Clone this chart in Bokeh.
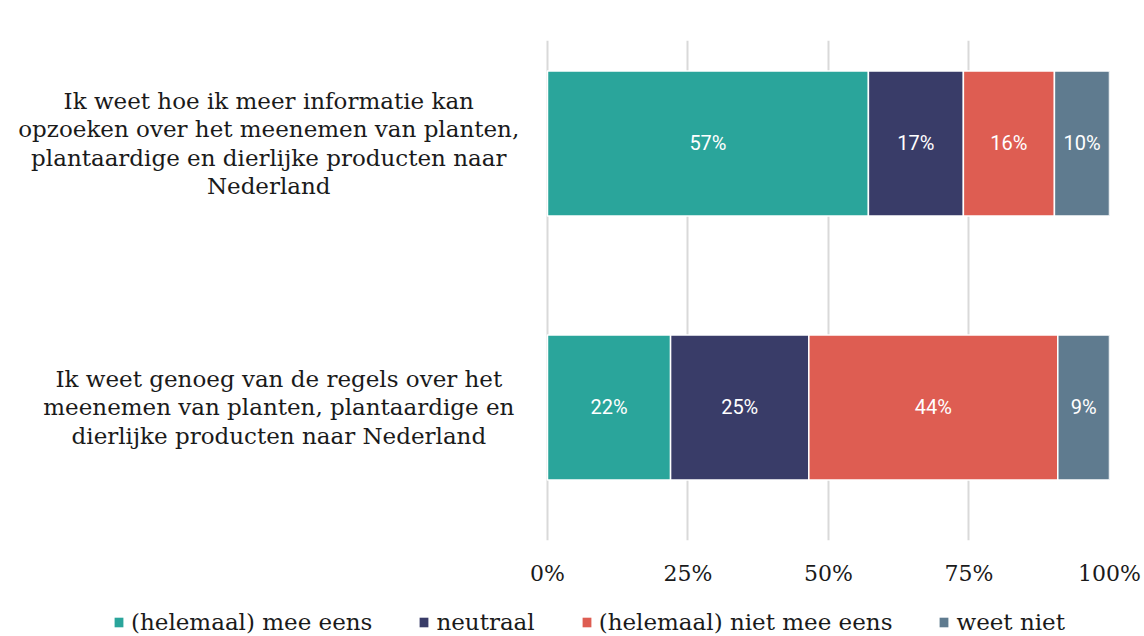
from bokeh.plotting import figure
from bokeh.layouts import column
from bokeh.models import Range1d, FixedTicker, PrintfTickFormatter, Legend, LegendItem, ColumnDataSource
from bokeh.core.properties import value
from bokeh.embed import file_html
from bokeh.resources import INLINE

categories = [
    "Ik weet hoe ik meer informatie kan\nopzoeken over het meenemen van planten,\nplantaardige en dierlijke producten naar\nNederland",
    "Ik weet genoeg van de regels over het\nmeenemen van planten, plantaardige en\ndierlijke producten naar Nederland",
]
series_names = ["(helemaal) mee eens", "neutraal", "(helemaal) niet mee eens", "weet niet"]
mee_eens = [57.1, 21.9]
neutraal = [16.9, 24.6]
niet_mee_eens = [16.2, 44.3]
weet_niet = [9.8, 9.2]
tick_values = [0, 25, 50, 75, 100]

series = [mee_eens, neutraal, niet_mee_eens, weet_niet]
colors = ["#2AA59B", "#393C68", "#DE5D52", "#5F7B8F"]

SERIF = "DejaVu Serif"
SANS = "Roboto"

p = figure(width=1144, height=590, output_backend="svg", toolbar_location=None,
           x_range=Range1d(-97.33, 100), y_range=Range1d(-0.504, 1.390),
           min_border_left=0, min_border_right=35, min_border_top=40,
           min_border_bottom=50)
p.outline_line_color = None
p.background_fill_color = "white"
p.border_fill_color = "white"

ypos = [len(categories) - 1 - i for i in range(len(categories))]

left = [0.0] * len(categories)
for name, vals, col in zip(series_names, series, colors):
    right = [l + v for l, v in zip(left, vals)]
    src = ColumnDataSource(dict(y=ypos, left=left, right=right,
                                mid=[(l + r) / 2 for l, r in zip(left, right)],
                                lab=["%d%%" % round(v) for v in vals]))
    p.hbar(y="y", left="left", right="right", height=0.549, source=src,
           fill_color=col, line_color="white", line_width=1.5)
    p.text(x="mid", y="y", text="lab", source=src, text_color="white",
           text_font=value(SANS), text_font_size="20px",
           text_align="center", text_baseline="middle")
    left = right

# category labels
label_x = [-49.6, -47.8]
p.text(x=label_x, y=ypos, text=categories, text_font=value(SERIF),
       text_font_size="23px", text_color="#1a1a1a", text_align="center",
       text_baseline="middle", text_line_height=1.1)

p.yaxis.visible = False
p.ygrid.visible = False
p.xaxis.ticker = FixedTicker(ticks=tick_values)
p.xaxis.formatter = PrintfTickFormatter(format="%d%%")
p.xaxis.axis_line_color = None
p.xaxis.major_tick_line_color = None
p.xaxis.minor_tick_line_color = None
p.xaxis.major_label_standoff = 14
p.xaxis.major_label_text_font = SERIF
p.xaxis.major_label_text_font_size = "22px"
p.xaxis.major_label_text_color = "#1a1a1a"
p.xgrid.ticker = FixedTicker(ticks=tick_values)
p.xgrid.grid_line_color = "#d9d9d9"
p.xgrid.grid_line_width = 2

# legend strip (its swatch renderers sit outside the visible range)
lg = figure(width=1144, height=46, output_backend="svg", toolbar_location=None,
            x_range=Range1d(0, 1), y_range=Range1d(0, 1),
            min_border_left=0, min_border_right=0, min_border_top=0,
            min_border_bottom=0)
lg.axis.visible = False
lg.grid.visible = False
lg.outline_line_color = None
items = []
for name, col in zip(series_names, colors):
    r = lg.quad(left=[-10], right=[-9], bottom=[-10], top=[-9],
                fill_color=col, line_color=None)
    items.append(LegendItem(label=name, renderers=[r]))
legend = Legend(items=items, orientation="horizontal", location=(113, 1),
                label_text_font=SERIF, label_text_font_size="23px",
                label_text_color="#1a1a1a", glyph_width=11, glyph_height=12,
                label_standoff=7, spacing=46, padding=0, margin=0,
                label_height=24, border_line_color=None,
                background_fill_alpha=0)
lg.add_layout(legend, "center")

open("out.html", "w").write(file_html(column(p, lg, spacing=0), INLINE))
